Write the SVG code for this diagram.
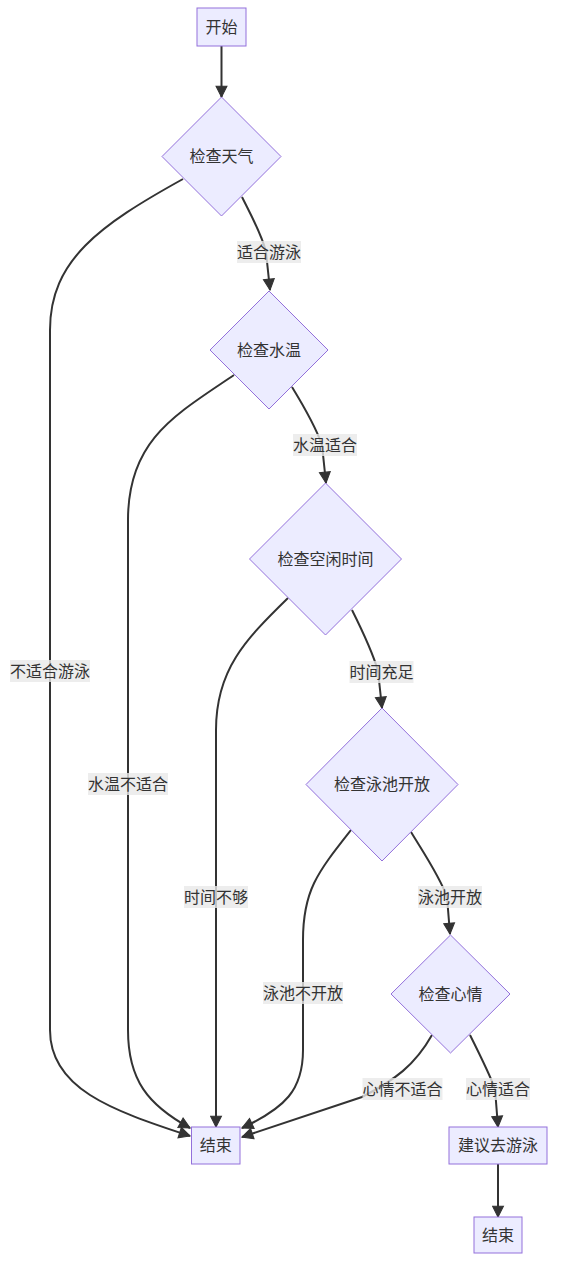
<svg xmlns="http://www.w3.org/2000/svg" width="564" height="1280" viewBox="0 0 564 1280">
<style>
.node{fill:#ECECFF;stroke:#9370DB;stroke-width:1px}
.t{font-family:"Liberation Sans","Noto Sans CJK SC",sans-serif;font-size:16px;fill:#333333;text-anchor:middle;dominant-baseline:central}
.e{fill:none;stroke:#333333;stroke-width:2px;marker-end:url(#arr)}
.lb{fill:#e8e8e8;fill-opacity:0.8}
</style>
<defs>
<marker id="arr" viewBox="-1 -1 12 12" refX="10" refY="5" markerUnits="userSpaceOnUse" markerWidth="13" markerHeight="13" orient="auto">
<path d="M0,0 L10,5 L0,10 z" fill="#333333" stroke="#333333" stroke-width="1"/>
</marker>
</defs>
<rect width="564" height="1280" fill="#ffffff"/>
<g id="edges">
<path class="e" d="M221.5,46 L221.5,97"/>
<path class="e" d="M242,197 C252,217 262,235 266,252 L270,290"/>
<path class="e" d="M292,387 C303,405 315,425 322,445 L326,483"/>
<path class="e" d="M352,610 C362,630 372,650 378,671 L382,708"/>
<path class="e" d="M411,832 C425,855 440,877 447,897 L450,934"/>
<path class="e" d="M470,1035 C480,1055 490,1075 495,1089 L498,1127"/>
<path class="e" d="M498,1164 L498,1217"/>
<path class="e" d="M183,179 C100,225 50,260 50,330 L50,1030 C50,1088 110,1110 190,1136"/>
<path class="e" d="M234,375 C175,415 128,440 128,520 L128,1030 C128,1080 148,1105 190,1128"/>
<path class="e" d="M288,598 C245,640 216,670 216,730 L216,1127"/>
<path class="e" d="M351,830 C318,872 303,890 303,940 L303,1050 C303,1090 285,1108 242,1128"/>
<path class="e" d="M432,1035 C415,1065 395,1080 362,1097 L242,1137"/>
</g>
<g id="edge-labels">
<rect class="lb" x="237" y="241" width="64" height="22"/><text class="t" x="269" y="252">适合游泳</text>
<rect class="lb" x="293" y="434" width="64" height="22"/><text class="t" x="325" y="445">水温适合</text>
<rect class="lb" x="349.5" y="661" width="64" height="22"/><text class="t" x="381.5" y="672">时间充足</text>
<rect class="lb" x="418" y="886" width="64" height="22"/><text class="t" x="450" y="897">泳池开放</text>
<rect class="lb" x="466" y="1078" width="64" height="22"/><text class="t" x="498" y="1089">心情适合</text>
<rect class="lb" x="362.5" y="1078" width="80" height="22"/><text class="t" x="402.5" y="1089">心情不适合</text>
<rect class="lb" x="263" y="982" width="80" height="22"/><text class="t" x="303" y="993">泳池不开放</text>
<rect class="lb" x="184" y="886" width="64" height="22"/><text class="t" x="216" y="897">时间不够</text>
<rect class="lb" x="88" y="773" width="80" height="22"/><text class="t" x="128" y="784">水温不适合</text>
<rect class="lb" x="10" y="660" width="80" height="22"/><text class="t" x="50" y="671">不适合游泳</text>
</g>
<g id="start"><rect class="node" x="197" y="8" width="49" height="38"/><text class="t" x="221.5" y="27">开始</text></g>
<g id="weather"><polygon class="node" points="221.5,97 281,156.5 221.5,216 162,156.5"/><text class="t" x="221.5" y="156.5">检查天气</text></g>
<g id="water"><polygon class="node" points="269,291 328,350 269,409 210,350"/><text class="t" x="269" y="350">检查水温</text></g>
<g id="time"><polygon class="node" points="325.5,483 401.5,559 325.5,635 249.5,559"/><text class="t" x="325.5" y="559">检查空闲时间</text></g>
<g id="pool"><polygon class="node" points="382,708 458,784.5 382,861 306,784.5"/><text class="t" x="382" y="784.5">检查泳池开放</text></g>
<g id="mood"><polygon class="node" points="450.5,935 510,994 450.5,1053 391,994"/><text class="t" x="450.5" y="994">检查心情</text></g>
<g id="end1"><rect class="node" x="191.5" y="1127" width="48.5" height="37"/><text class="t" x="215.75" y="1145.5">结束</text></g>
<g id="suggest"><rect class="node" x="449" y="1127" width="98" height="37"/><text class="t" x="498" y="1145.5">建议去游泳</text></g>
<g id="end2"><rect class="node" x="474" y="1217" width="48" height="36"/><text class="t" x="498" y="1235">结束</text></g>
</svg>
